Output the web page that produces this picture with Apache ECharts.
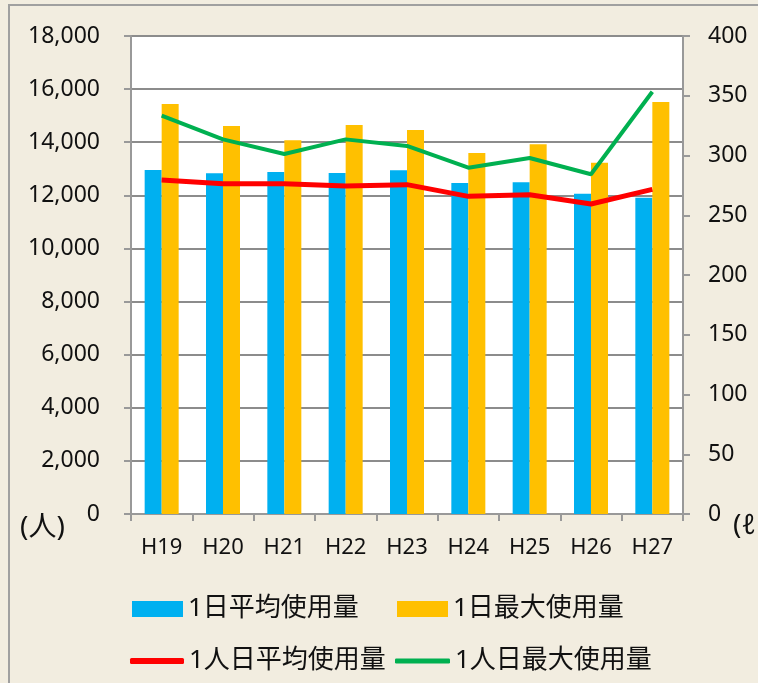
<!DOCTYPE html>
<html>
<head>
<meta charset="utf-8">
<script src="https://cdn.jsdelivr.net/npm/echarts@6/dist/echarts.min.js"></script>
<style>
  html, body { margin: 0; padding: 0; background: #F2EDE0; }
  #echart_bar { width: 758px; height: 683px; }
</style>
</head>
<body>
<div id="echart_bar"></div>
<script>
  // 年度
  var years = ['H19', 'H20', 'H21', 'H22', 'H23', 'H24', 'H25', 'H26', 'H27'];
  // 1日平均使用量 / 1日最大使用量 (人)
  var dayAvg = [12950, 12830, 12880, 12840, 12940, 12460, 12490, 12060, 11910];
  var dayMax = [15440, 14610, 14070, 14650, 14460, 13590, 13920, 13230, 15510];
  // 1人日平均使用量 / 1人日最大使用量 (ℓ)
  var personAvg = [279.5, 276.4, 276.4, 274.5, 275.6, 265.8, 267.2, 259.4, 271.7];
  var personMax = [333.3, 313.5, 301.3, 313.5, 308.0, 289.8, 297.9, 284.3, 353.4];

  var font = '"Noto Sans", "Noto Sans CJK JP", sans-serif';
  var axisGray = '#999999';

  var myChart = echarts.init(document.getElementById('echart_bar'));
  var legendText = { fontFamily: font, fontSize: 26, color: '#111' };
  var option = {
    backgroundColor: '#F2EDE0',
    animation: false,
    graphic: [
      { type: 'rect', shape: { x: 9, y: 5, width: 800, height: 720 },
        style: { fill: 'none', stroke: '#A0A0A0', lineWidth: 2 } },
      { type: 'text', left: 20, top: 514,
        style: { text: '(人)', font: '28px ' + font, fill: '#111' } },
      { type: 'text', left: 733, top: 512,
        style: { text: '(ℓ', font: '28px ' + font, fill: '#111' } }
    ],
    grid: { left: 131, right: 75, top: 36, bottom: 169, show: true, backgroundColor: '#fff', borderWidth: 0 },
    legend: [
      { left: 127, top: 591, itemWidth: 51, itemHeight: 16, textStyle: legendText, data: [{ name: '1日平均使用量', icon: 'rect' }] },
      { left: 392, top: 591, itemWidth: 51, itemHeight: 16, textStyle: legendText, data: [{ name: '1日最大使用量', icon: 'rect' }] },
      { left: 125, top: 643, itemWidth: 54, itemHeight: 6, textStyle: legendText, data: [{ name: '1人日平均使用量', icon: 'roundRect' }] },
      { left: 390, top: 643, itemWidth: 55, itemHeight: 5, textStyle: legendText, data: [{ name: '1人日最大使用量', icon: 'roundRect' }] }
    ],
    xAxis: {
      type: 'category',
      data: years,
      axisLine: { lineStyle: { color: axisGray, width: 2 } },
      axisTick: { show: true, length: 7, lineStyle: { color: axisGray, width: 2 } },
      axisLabel: { fontFamily: font, fontSize: 22, color: '#111', margin: 23 }
    },
    yAxis: [
      {
        type: 'value', min: 0, max: 18000, interval: 2000,
        axisLine: { show: true, lineStyle: { color: axisGray, width: 2 } },
        axisTick: { show: true, length: 7, lineStyle: { color: axisGray, width: 2 } },
        splitLine: { lineStyle: { color: '#8C8C8C', width: 2 } },
        axisLabel: {
          fontFamily: font, fontSize: 23, color: '#111', margin: 31,
          formatter: function (v) { return v.toLocaleString('en-US'); }
        }
      },
      {
        type: 'value', min: 0, max: 400, interval: 50,
        axisLine: { show: true, lineStyle: { color: axisGray, width: 2 } },
        axisTick: { show: true, length: 7, lineStyle: { color: axisGray, width: 2 } },
        splitLine: { show: false },
        axisLabel: { fontFamily: font, fontSize: 23, color: '#111', margin: 25 }
      }
    ],
    series: [
      { name: '1日平均使用量', type: 'bar', data: dayAvg, barWidth: 17, barGap: '0%',
        itemStyle: { color: '#00B0F0' } },
      { name: '1日最大使用量', type: 'bar', data: dayMax, barWidth: 17, barGap: '0%',
        itemStyle: { color: '#FFC000' } },
      { name: '1人日平均使用量', type: 'line', yAxisIndex: 1, data: personAvg, symbol: 'none',
        lineStyle: { color: '#FF0000', width: 5 }, itemStyle: { color: '#FF0000' } },
      { name: '1人日最大使用量', type: 'line', yAxisIndex: 1, data: personMax, symbol: 'none',
        lineStyle: { color: '#00B050', width: 4 }, itemStyle: { color: '#00B050' } }
    ]
  };
  myChart.setOption(option);
</script>
</body>
</html>
